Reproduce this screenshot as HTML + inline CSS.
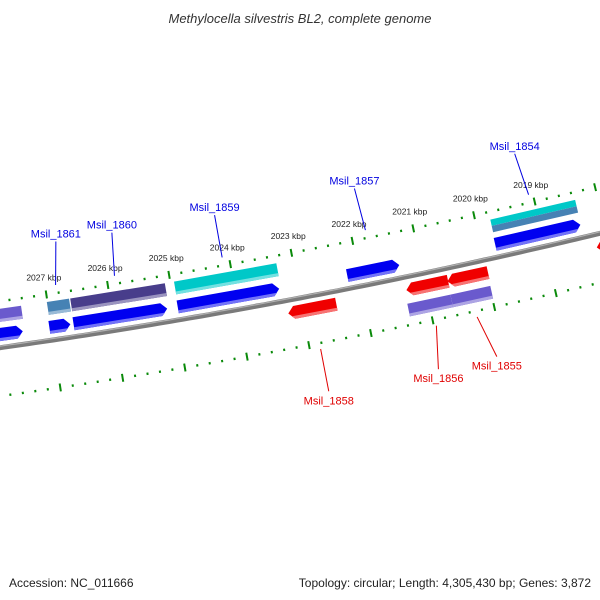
<!DOCTYPE html>
<html><head><meta charset="utf-8"><style>
body{margin:0;background:#fff}
svg{display:block;font-family:"Liberation Sans","DejaVu Sans",sans-serif}
</style></head><body>
<svg id="map" width="600" height="600" viewBox="0 0 600 600">
<rect width="600" height="600" fill="#fff"/>
<text x="300" y="23" text-anchor="middle" font-size="13" font-style="italic" fill="#333">Methylocella silvestris BL2, complete genome</text>
<text x="9" y="587" font-size="12" fill="#222">Accession: NC_011666</text>
<text x="591" y="587" text-anchor="end" font-size="12" fill="#222">Topology: circular; Length: 4,305,430 bp; Genes: 3,872</text>
<g id="plot"></g>
</svg>
<script>
// kbp tick labels
const tickLabels = [2027, 2026, 2025, 2024, 2023, 2022, 2021, 2020, 2019];
// genes: start kbp, end kbp, row, color, direction
const geneStart = [2028.47, 2027.03, 2026.64, 2024.95, 2022.19, 2019.77, 2028.41, 2027.01, 2026.63, 2024.94, 2019.76, 2019.76, 2023.23, 2021.31, 2020.64, 2018.2, 2021.34, 2020.64];
const geneEnd   = [2027.46, 2026.69, 2025.12, 2023.30, 2021.34, 2018.37, 2027.43, 2026.65, 2025.09, 2023.27, 2018.36, 2018.36, 2022.45, 2020.63, 2019.98, 2017.38, 2020.64, 2019.99];
const geneRow   = ["f1","f1","f1","f1","f1","f1","f2","f2","f2","f2","f2top","f2bot","r1","r1","r1","r1","r2","r2"];
const geneColor = ["#0000f0","#0000f0","#0000f0","#0000f0","#0000f0","#0000f0","#6a5acd","#4682b4","#483d8b","#00c8c8","#00c8c8","#4682b4","#f00000","#f00000","#f00000","#f00000","#6a5acd","#6a5acd"];
const geneDir   = [1,1,1,1,1,1,0,0,0,0,0,0,-1,-1,-1,-1,0,0];
// labels
const labelNames = ["Msil_1861","Msil_1860","Msil_1859","Msil_1857","Msil_1854","Msil_1858","Msil_1856","Msil_1855"];
const labelStart = [2026.83, 2025.87, 2024.11, 2021.76, 2019.07, 2022.83, 2020.96, 2020.30];
const labelEnd   = [2026.72, 2025.80, 2024.11, 2021.80, 2019.14, 2022.83, 2021.07, 2020.13];
const labelSide  = [-1,-1,-1,-1,-1,1,1,1];

const NS="http://www.w3.org/2000/svg";
const g=document.getElementById('plot');
const R=6350, a0=Math.atan2(0.982,0.187);
const C=[300-R*Math.cos(a0), 298-R*Math.sin(a0)];
const PX=62.6;
function sOf(k){return (2023-k)*PX;}
function P(k,off){const a=a0-sOf(k)/R;return [C[0]+(R+off)*Math.cos(a), C[1]+(R+off)*Math.sin(a)];}
function mk(tag,attrs,name){const e=document.createElementNS(NS,tag);for(const k in attrs)e.setAttribute(k,attrs[k]);
 
 
 g.appendChild(e);return e;}
function pts(a){return a.map(p=>p[0].toFixed(1)+','+p[1].toFixed(1)).join(' ');}

// backbone
let bb=[],bb2=[];
for(let k=2028.5;k>=2017;k-=0.1){bb.push(P(k,0));bb2.push(P(k,-1.5));}
mk('polyline',{points:pts(bb),fill:'none',stroke:'#7a7a7a','stroke-width':5},'backbone');
mk('polyline',{points:pts(bb2),fill:'none',stroke:'#b0b0b0','stroke-width':1.2},'backbone-highlight');

// ticks
for(let i=0;i<=60;i++){
 const k=2028.6-i*0.2; const major=Math.abs(k-Math.round(k))<0.01;
 [-46,48].forEach(o=>{
  const len=major?4:1.2;
  const p1=P(k,o-len),p2=P(k,o+len);
  mk('line',{x1:p1[0],y1:p1[1],x2:p2[0],y2:p2[1],stroke:'#0a8a0a','stroke-width':2},major?'major-tick':'minor-tick');
 });
}
tickLabels.forEach(k=>{const p=P(k,-63);
 const t=mk('text',{x:p[0],y:p[1]+3,'text-anchor':'middle','font-size':'8.5',fill:'#222'},'tick-label');t.textContent=k+' kbp';});

// genes
const rowOff={f1:-13,f2:-32,f2top:-35,f2bot:-28.5,r1:13,r2:33};
const rowH={f1:13,f2:13,f2top:6.5,f2bot:6.5,r1:13,r2:13};
function lighten(c){const n=parseInt(c.slice(1),16);let r=n>>16,gg=(n>>8)&255,b=n&255;
 r=Math.round(r+(255-r)*0.45);gg=Math.round(gg+(255-gg)*0.45);b=Math.round(b+(255-b)*0.45);return `rgb(${r},${gg},${b})`;}
geneStart.forEach((ks,i)=>{
 const ke=geneEnd[i],o=rowOff[geneRow[i]],h=rowH[geneRow[i]],d=geneDir[i];
 const top=o-h/2,bot=o+h/2,ak=6/PX;
 let poly;
 if(d===1) poly=[P(ks,top),P(ke+ak,top),P(ke,o),P(ke+ak,bot),P(ks,bot)];
 else if(d===-1) poly=[P(ks-ak,top),P(ke,top),P(ke,bot),P(ks-ak,bot),P(ks,o)];
 else poly=[P(ks,top),P(ke,top),P(ke,bot),P(ks,bot)];
 mk('polygon',{points:pts(poly),fill:geneColor[i]},'gene-'+geneRow[i]);
 if(h>8){const lb=bot-3;
  let sp;
  if(d===1) sp=[P(ks,lb),P(ke+ak*3/6.5,lb),P(ke+ak,bot),P(ks,bot)];
  else if(d===-1) sp=[P(ks-ak*3/6.5,lb),P(ke,lb),P(ke,bot),P(ks-ak,bot)];
  else sp=[P(ks,lb),P(ke,lb),P(ke,bot),P(ks,bot)];
  mk('polygon',{points:pts(sp),fill:lighten(geneColor[i])},'gene-shade');}
});

// labels
labelNames.forEach((n,i)=>{
 const sd=labelSide[i],col=sd<0?'#0000e0':'#e00000';
 const p1=P(labelStart[i],sd*54),p2=P(labelEnd[i],sd*97);
 mk('line',{x1:p1[0],y1:p1[1],x2:p2[0],y2:p2[1],stroke:col,'stroke-width':1},'label-leader');
 const t=mk('text',{x:p2[0],y:sd<0?p2[1]-4:p2[1]+13,'text-anchor':'middle','font-size':'11',fill:col},'gene-label');
 t.textContent=n;
});
</script>
</body></html>
